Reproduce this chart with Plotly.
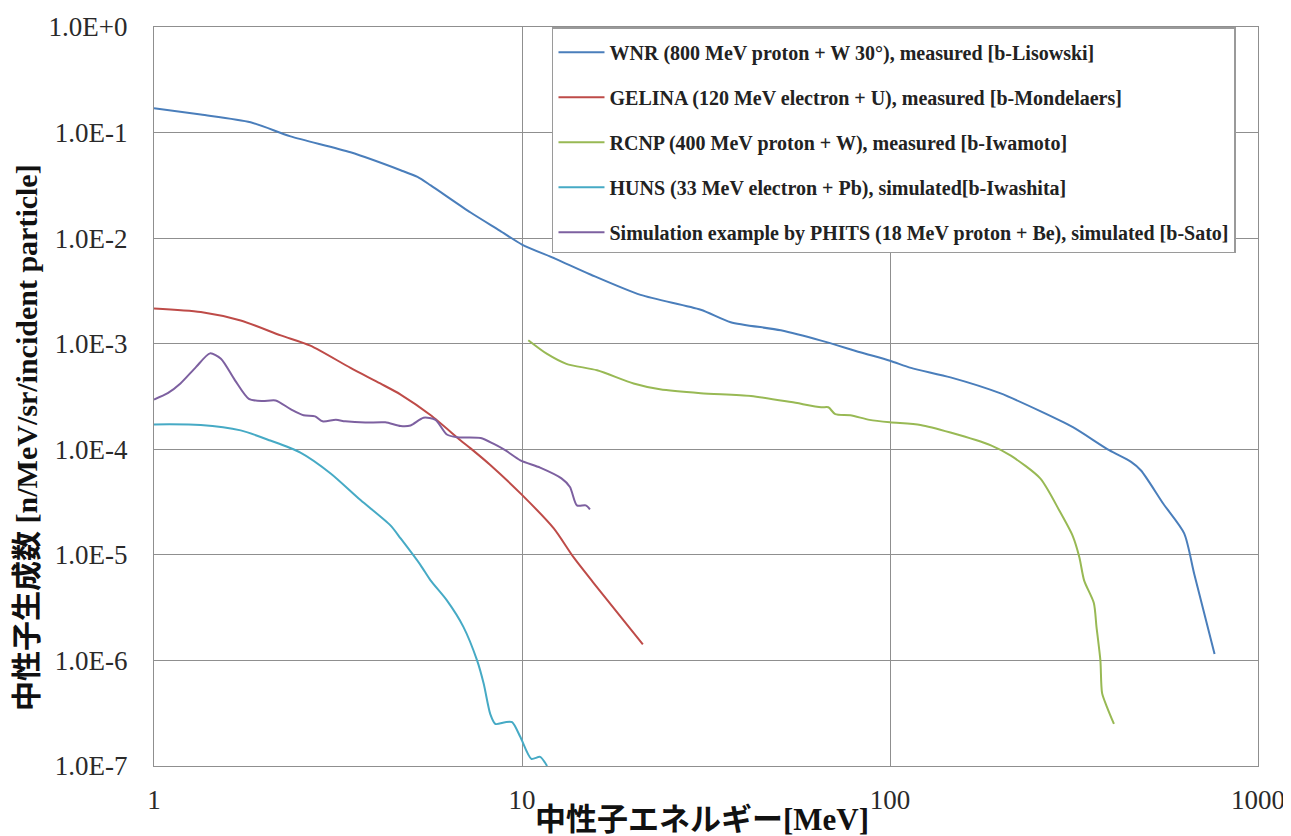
import plotly.graph_objects as go

# ---------------- data ----------------
wnr_x = [1.0, 1.34, 1.83, 2.35, 3.42, 4.68, 5.2, 5.65, 7.25, 8.7, 10, 12.3, 15.4, 21, 30.6, 36.9,
         50.5, 65, 83, 100, 114, 146, 199, 256, 314, 394, 452, 481, 553, 630, 671, 762]
wnr_y = [0.17, 0.148, 0.125, 0.092, 0.065, 0.044, 0.038, 0.0316, 0.0175, 0.0118, 0.0087, 0.0064,
         0.0045, 0.0029, 0.0021, 0.0016, 0.00134, 0.00107, 0.00083, 0.00069, 0.00059, 0.00048,
         0.00034, 0.00023, 0.000162, 0.000098, 0.000076, 0.000063, 0.0000305, 0.000016,
         0.0000066, 0.00000115]

gelina_x = [1.0, 1.34, 1.72, 2.21, 2.66, 3.42, 4.12, 4.68, 5.65, 6.8, 7.25, 8.2, 10, 12.2, 13.8, 15.6, 21.3]
gelina_y = [0.00216, 0.0020, 0.00166, 0.0012, 0.00096, 0.00059, 0.00042, 0.00033, 0.00021, 0.000122,
            0.000102, 0.000071, 0.000037, 0.0000178, 0.0000095, 0.0000055, 0.00000142]

rcnp_x = [10.4, 11.7, 13.2, 16.0, 20.1, 23.7, 30.6, 41.9, 53.9, 65, 68, 71, 78, 88, 100, 121, 146,
          188, 213, 256, 289, 314, 327, 337, 358, 364, 373, 377, 389, 406]
rcnp_y = [1.08e-3, 8.0e-4, 6.45e-4, 5.6e-4, 4.2e-4, 3.7e-4, 3.4e-4, 3.2e-4, 2.8e-4, 2.5e-4, 2.5e-4,
          2.15e-4, 2.1e-4, 1.9e-4, 1.8e-4, 1.7e-4, 1.44e-4, 1.09e-4, 8.7e-5, 5.3e-5, 2.6e-5, 1.5e-5,
          9.5e-6, 5.7e-6, 3.5e-6, 2.08e-6, 1.0e-6, 4.9e-7, 3.6e-7, 2.5e-7]

huns_x = [1.0, 1.34, 1.72, 2.07, 2.5, 3.02, 3.64, 4.39, 4.68, 5.3, 5.65, 6.25, 6.93, 7.55, 7.87, 8.2,
          8.47, 9.0, 9.4, 9.9, 10.6, 11.2, 11.7]
huns_y = [1.72e-4, 1.7e-4, 1.51e-4, 1.21e-4, 9.3e-5, 5.9e-5, 3.3e-5, 1.9e-5, 1.43e-5, 8.0e-6, 5.7e-6,
          3.7e-6, 2.08e-6, 1.0e-6, 6.0e-7, 3.1e-7, 2.5e-7, 2.6e-7, 2.6e-7, 1.88e-7, 1.17e-7, 1.22e-7, 1.0e-7]

phits_x = [1.0, 1.09, 1.18, 1.30, 1.42, 1.52, 1.66, 1.81, 1.97, 2.14, 2.35, 2.55, 2.74, 2.87, 3.12,
           3.31, 3.75, 4.25, 4.68, 4.98, 5.4, 5.82, 6.25, 6.66, 7.72, 8.36, 9.0, 9.9, 11.2, 12.8,
           13.5, 14.1, 14.9, 15.3]
phits_y = [2.96e-4, 3.4e-4, 4.2e-4, 6.0e-4, 8.1e-4, 7.2e-4, 4.5e-4, 3.0e-4, 2.86e-4, 2.9e-4, 2.4e-4,
           2.1e-4, 2.05e-4, 1.84e-4, 1.9e-4, 1.84e-4, 1.79e-4, 1.8e-4, 1.66e-4, 1.68e-4, 1.99e-4,
           1.9e-4, 1.38e-4, 1.3e-4, 1.28e-4, 1.13e-4, 9.8e-5, 7.85e-5, 6.7e-5, 5.3e-5, 4.4e-5,
           2.94e-5, 2.94e-5, 2.7e-5]

series_names = [
    "WNR (800 MeV proton + W 30°), measured [b-Lisowski]",
    "GELINA (120 MeV electron + U), measured [b-Mondelaers]",
    "RCNP (400 MeV proton + W), measured [b-Iwamoto]",
    "HUNS (33 MeV electron + Pb), simulated[b-Iwashita]",
    "Simulation example by PHITS (18 MeV proton + Be), simulated [b-Sato]",
]
series_colors = ["#4a7ebb", "#be4b48", "#98b954", "#46aac5", "#7d60a0"]

x_tickvals = [1, 10, 100, 1000]
x_ticktext = ["1", "10", "100", "1000"]
y_tickvals = [1, 1e-1, 1e-2, 1e-3, 1e-4, 1e-5, 1e-6, 1e-7]
y_ticktext = ["1.0E+0", "1.0E-1", "1.0E-2", "1.0E-3", "1.0E-4", "1.0E-5", "1.0E-6", "1.0E-7"]

x_title = "中性子エネルギー[MeV]"
y_title = "中性子生成数 [n/MeV/sr/incident particle]"

# ---------------- figure ----------------
serif = "Liberation Serif, Noto Sans CJK JP, serif"
fig = go.Figure()
all_x = [wnr_x, gelina_x, rcnp_x, huns_x, phits_x]
all_y = [wnr_y, gelina_y, rcnp_y, huns_y, phits_y]
for i, (xs, ys) in enumerate(zip(all_x, all_y)):
    fig.add_trace(go.Scatter(
        x=xs, y=ys, mode="lines", name=series_names[i],
        legendgroup=str(i),
        line=dict(color=series_colors[i], width=2, shape="spline", smoothing=0.7),
    ))

grid = "#8f8f8f"
fig.update_xaxes(
    type="log", range=[0, 3], tickvals=x_tickvals, ticktext=x_ticktext,
    showgrid=True, gridcolor=grid, gridwidth=1.2,
    showline=True, linecolor=grid, linewidth=1.2, mirror=True,
    ticks="", ticklabelstandoff=9, zeroline=False, automargin=False,
    tickfont=dict(family=serif, size=27, color="#2a2a2a"),
)
fig.update_yaxes(
    type="log", range=[-7, 0], tickvals=y_tickvals, ticktext=y_ticktext,
    showgrid=True, gridcolor=grid, gridwidth=1.2,
    showline=True, linecolor=grid, linewidth=1.2, mirror=True,
    ticks="", ticklabelstandoff=20, zeroline=False, automargin=False,
    tickfont=dict(family=serif, size=27, color="#2a2a2a"),
)

fig.add_annotation(
    text=x_title, xref="paper", yref="paper", x=0.4965, y=-0.0725,
    xanchor="center", yanchor="middle", showarrow=False,
    font=dict(family=serif, size=31, color="#111", weight="bold"),
)
fig.add_annotation(
    text=y_title, xref="paper", yref="paper", x=-0.115, y=0.444,
    xanchor="center", yanchor="middle", showarrow=False, textangle=-90,
    font=dict(family=serif, size=30, color="#111", weight="bold"),
)

fig.update_layout(
    width=1283, height=828,
    margin=dict(l=146, r=33, t=19, b=70, autoexpand=False),
    paper_bgcolor="white", plot_bgcolor="white",
    showlegend=True,
    legend=dict(
        x=0.3605, y=0.9995, xanchor="left", yanchor="top",
        bgcolor="white", bordercolor="#9a9a9a", borderwidth=1.5,
        font=dict(family=serif, size=20, color="#222", weight="bold"),
        title=dict(text=" ", font=dict(size=3)),
        tracegroupgap=16, itemwidth=46,
    ),
)

fig.write_html("out.html")
